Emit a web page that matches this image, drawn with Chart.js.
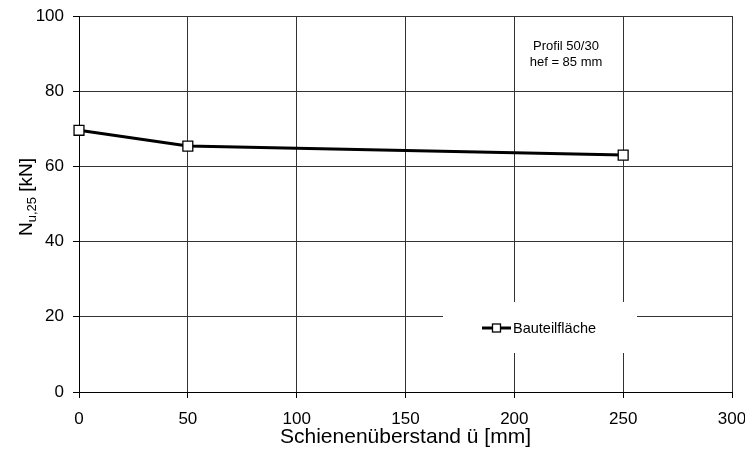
<!DOCTYPE html>
<html>
<head>
<meta charset="utf-8">
<script src="https://cdn.jsdelivr.net/npm/chart.js@4.4.0/dist/chart.umd.min.js"></script>
<style>
  html, body { margin: 0; padding: 0; background: #fff; }
  #wrap { width: 745px; height: 457px; }
</style>
</head>
<body>
<div id="wrap"><canvas id="chart"></canvas></div>
<script>
// --- data ---
const overhang = [0, 50, 250];          // Schienenüberstand ü [mm]
const nu25 = [69.6, 65.4, 63.0];        // Nu,25 [kN]
const seriesLabel = 'Bauteilfläche';
const noteLines = ['Profil 50/30', 'hef = 85 mm'];

const FONT = "'Liberation Sans', Arial, sans-serif";

// y axis title with subscript, note text and the boxed legend
const extras = {
  id: 'extras',
  afterDraw(chart) {
    const { ctx } = chart;
    ctx.save();

    // y title: N_{u,25} [kN]
    ctx.translate(32, 197);
    ctx.rotate(-Math.PI / 2);
    ctx.fillStyle = '#000';
    ctx.textBaseline = 'alphabetic';
    ctx.font = '19px ' + FONT;
    const wN = ctx.measureText('N').width;
    const wRest = ctx.measureText(' [kN]').width;
    ctx.font = '13px ' + FONT;
    const wSub = ctx.measureText('u,25').width;
    let x0 = -(wN + wSub + wRest) / 2;
    ctx.font = '19px ' + FONT;
    ctx.fillText('N', x0, 0);
    ctx.font = '13px ' + FONT;
    ctx.fillText('u,25', x0 + wN, 4);
    ctx.font = '19px ' + FONT;
    ctx.fillText(' [kN]', x0 + wN + wSub, 0);
    ctx.restore();

    // note in upper right
    ctx.save();
    ctx.fillStyle = '#000';
    ctx.font = '13px ' + FONT;
    ctx.textAlign = 'center';
    ctx.textBaseline = 'middle';
    ctx.fillText(noteLines[0], 566, 46);
    ctx.fillText(noteLines[1], 566, 62);

    // legend box (white, hides grid)
    ctx.fillStyle = '#fff';
    ctx.fillRect(443, 302, 194, 51);
    const ly = 328;
    ctx.strokeStyle = '#000';
    ctx.lineWidth = 3;
    ctx.beginPath();
    ctx.moveTo(482, ly);
    ctx.lineTo(511, ly);
    ctx.stroke();
    ctx.fillStyle = '#fff';
    ctx.lineWidth = 1.3;
    ctx.fillRect(492.5, ly - 4, 8, 8);
    ctx.strokeRect(492.5, ly - 4, 8, 8);
    ctx.fillStyle = '#000';
    ctx.font = '14.5px ' + FONT;
    ctx.textAlign = 'left';
    ctx.fillText(seriesLabel, 513, ly + 1);
    ctx.restore();
  }
};

new Chart(document.getElementById('chart'), {
  type: 'line',
  data: {
    datasets: [{
      label: seriesLabel,
      data: overhang.map((x, i) => ({ x, y: nu25[i] })),
      borderColor: '#000',
      borderWidth: 3,
      pointStyle: 'rect',
      pointRadius: 7,
      pointBackgroundColor: '#fff',
      pointBorderColor: '#000',
      pointBorderWidth: 1.3,
      tension: 0,
      clip: false,
    }]
  },
  options: {
    responsive: true,
    maintainAspectRatio: false,
    animation: false,
    layout: { padding: { left: 0, top: 16, right: 13, bottom: 0 } },
    scales: {
      x: {
        type: 'linear',
        min: 0,
        max: 300,
        ticks: { stepSize: 50, color: '#000', font: { size: 17, family: FONT }, padding: 11, maxRotation: 0 },
        grid: { color: '#333', lineWidth: 1, tickLength: 6, tickColor: '#000' },
        border: { color: '#000', width: 1 },
        title: { display: true, text: 'Schienenüberstand ü [mm]', color: '#000', font: { size: 21, family: FONT }, padding: { top: 0, bottom: 7 } },
        afterFit: s => { s.height = 65; s.paddingLeft = 0; s.paddingRight = 0; }
      },
      y: {
        min: 0,
        max: 100,
        ticks: { stepSize: 20, color: '#000', font: { size: 17, family: FONT }, padding: 9 },
        grid: { color: '#333', lineWidth: 1, tickLength: 6, tickColor: '#000' },
        border: { color: '#000', width: 1 },
        afterFit: s => { s.width = 79; s.paddingTop = 0; s.paddingBottom = 0; }
      }
    },
    plugins: {
      legend: { display: false },
      tooltip: { enabled: false }
    }
  },
  plugins: [extras]
});
</script>
</body>
</html>
